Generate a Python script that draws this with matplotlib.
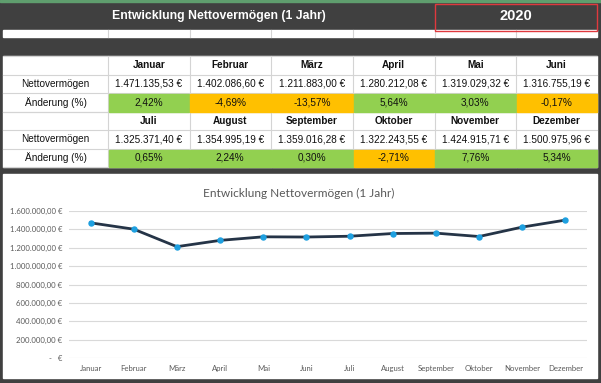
import matplotlib.pyplot as plt
from matplotlib.patches import Rectangle
from matplotlib.ticker import FuncFormatter

# data
months = ["Januar", "Februar", "März", "April", "Mai", "Juni",
          "Juli", "August", "September", "Oktober", "November", "Dezember"]
net_worth = [1471135.53, 1402086.60, 1211883.00, 1280212.08, 1319029.32, 1316755.19,
             1325371.40, 1354995.19, 1359016.28, 1322243.55, 1424915.71, 1500975.96]
change_pct = [2.42, -4.69, -13.57, 5.64, 3.03, -0.17,
              0.65, 2.24, 0.30, -2.71, 7.76, 5.34]
title = "Entwicklung Nettovermögen (1 Jahr)"
year = "2020"

DARK = "#404040"
GREEN = "#92D050"
ORANGE = "#FFC000"
GRID = "#d4d4d4"
W, H = 601, 383


def eur(v):
    s = f"{v:,.2f}".replace(",", "X").replace(".", ",").replace("X", ".")
    return s + " €"


def pct(v):
    return f"{v:.2f}".replace(".", ",") + "%"


fig = plt.figure(figsize=(W / 100, H / 100), dpi=100)
fig.patch.set_facecolor("white")

# background canvas in pixel coords
bg = fig.add_axes([0, 0, 1, 1])
bg.set_xlim(0, W)
bg.set_ylim(H, 0)
bg.axis("off")

# table layout
col_edges = [3, 108, 189.5, 271, 353, 434.5, 516, 597]
blocks = [[56, 75, 93, 112], [112, 130, 149, 167]]
tf = "Liberation Sans"
fs = 7.2

# outer dark frame
bg.add_patch(Rectangle((0, 0), W, H, color=DARK, zorder=0))
bg.add_patch(Rectangle((0, 0), W, 2, color="#5f9e6e", zorder=1))
# white areas
bg.add_patch(Rectangle((3, 30), 594, 7, color="white", zorder=1))
bg.add_patch(Rectangle((3, 56), 594, 111, color="white", zorder=1))
bg.add_patch(Rectangle((3, 174), 594, 204, color="white", zorder=1))

# faint sheet gridlines in spacer row
for x in col_edges[1:-1]:
    bg.plot([x, x], [30, 37], color=GRID, lw=0.8, zorder=2)

# header
bg.text(218.5, 16.5, title, ha="center", va="center", color="white",
        fontsize=8.8, fontweight="bold", family=tf, zorder=3)
bg.text(516, 16.5, year, ha="center", va="center", color="white",
        fontsize=10.5, fontweight="bold", family=tf, zorder=3)
bg.add_patch(Rectangle((434.5, 4), 162.5, 26.5, fill=False, ec="#e0393e", lw=1.0, zorder=3))

for b, rows in enumerate(blocks):
    # grid lines
    for y in rows:
        bg.plot([3, 597], [y, y], color=GRID, lw=0.8, zorder=2)
    for x in col_edges[1:-1]:
        bg.plot([x, x], [rows[0], rows[-1]], color=GRID, lw=0.8, zorder=2)
    yc = [(rows[i] + rows[i + 1]) / 2 for i in range(3)]
    bg.text(55.5, yc[1], "Nettovermögen", ha="center", va="center",
            fontsize=fs, family=tf, color="#111111", zorder=4)
    bg.text(55.5, yc[2], "Änderung (%)", ha="center", va="center",
            fontsize=fs, family=tf, color="#111111", zorder=4)
    for j in range(6):
        i = b * 6 + j
        x0, x1 = col_edges[j + 1], col_edges[j + 2]
        xc = (x0 + x1) / 2
        bg.text(xc, yc[0], months[i], ha="center", va="center",
                fontsize=fs, fontweight="bold", family=tf, color="#111111", zorder=4)
        bg.text(xc, yc[1], eur(net_worth[i]), ha="center", va="center",
                fontsize=fs, family=tf, color="#111111", zorder=4)
        c = GREEN if change_pct[i] >= 0 else ORANGE
        bg.add_patch(Rectangle((x0 + 0.5, rows[2] + 0.5), x1 - x0 - 1, rows[3] - rows[2] - 1,
                               color=c, zorder=3))
        bg.text(xc, yc[2], pct(change_pct[i]), ha="center", va="center",
                fontsize=fs, family=tf, color="#111111", zorder=4)

# chart
cf = "Lato"
ax = fig.add_axes([69 / W, 25 / H, (587 - 69) / W, 147 / H])
ax.set_facecolor("white")
x = list(range(len(months)))
ax.plot(x, net_worth, color="#253447", lw=2, zorder=3,
        marker="o", markersize=3.6, markerfacecolor="#1ea0e0", markeredgecolor="#1ea0e0")
ax.set_xlim(-0.5, len(months) - 0.5)
ax.set_ylim(0, 1600000)
ax.set_yticks(range(0, 1600001, 200000))
ax.yaxis.set_major_formatter(FuncFormatter(lambda v, p: "-   €" if v == 0 else eur(v)))
ax.set_xticks(x)
ax.set_xticklabels(months)
ax.grid(axis="y", color="#d9d9d9", lw=0.8)
ax.set_axisbelow(True)
for s in ax.spines.values():
    s.set_visible(False)
ax.tick_params(length=0, labelsize=5.6, labelcolor="#595959")
ax.tick_params(axis="x", pad=5)
ax.tick_params(axis="y", pad=5)
for lab in ax.get_xticklabels() + ax.get_yticklabels():
    lab.set_family(cf)
fig.text(299 / W, 1 - 193 / H, title, ha="center", va="center",
         fontsize=8.6, color="#595959", family=cf)

plt.savefig("out.png", dpi=100)
